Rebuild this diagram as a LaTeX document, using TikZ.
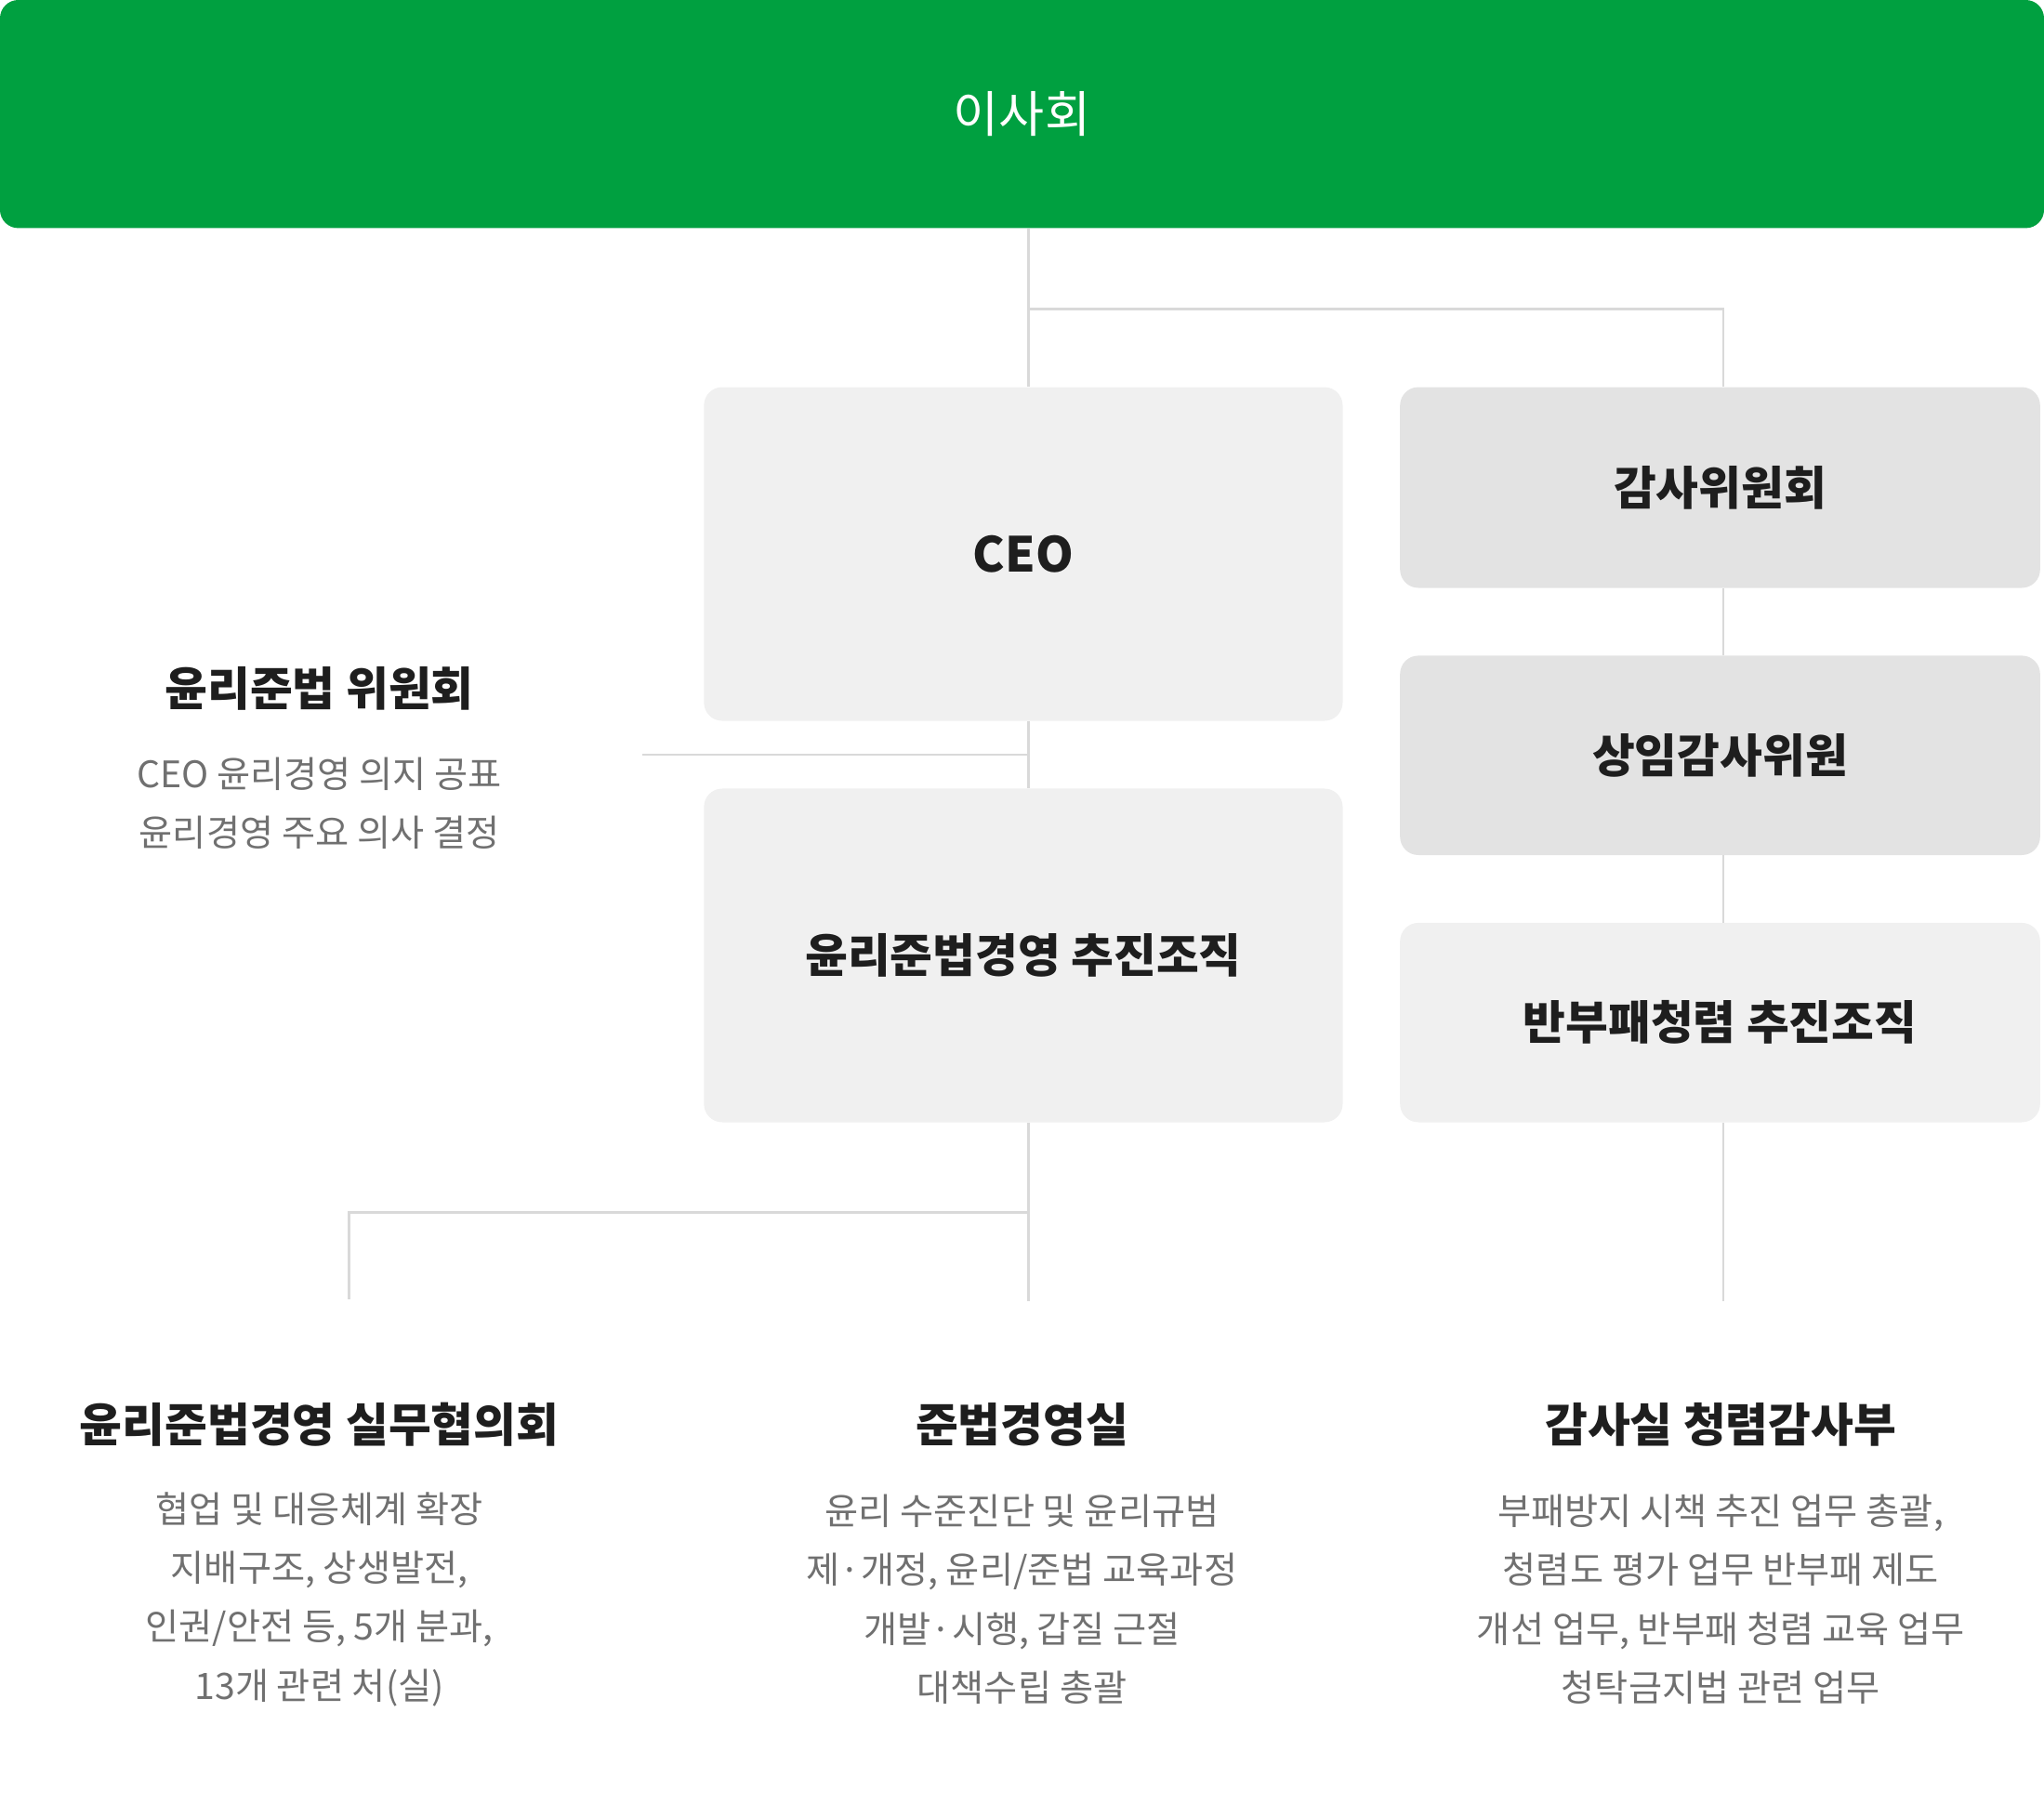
\documentclass[tikz,border=0pt]{standalone}
\usepackage{fontspec}
\setmainfont{Noto Sans CJK KR}
\usepackage{tikz}
\usetikzlibrary{calc}
\definecolor{boardgreen}{HTML}{00A040}
\definecolor{boxlight}{HTML}{F0F0F0}
\definecolor{boxdark}{HTML}{E3E3E3}
\definecolor{linegray}{HTML}{D9D9D9}
\definecolor{titleblack}{HTML}{1E1E1E}
\definecolor{descgray}{HTML}{707070}

\begin{document}
\begin{tikzpicture}[x=1pt,y=-1pt,
    orgbox/.style={rectangle,rounded corners=14pt,inner sep=0pt,text=titleblack,
        font=\fontsize{35.5}{40}\selectfont\bfseries},
    orgline/.style={draw=linegray,line width=2pt},
    unittitle/.style={inner sep=0pt,text=titleblack,font=\fontsize{35.5}{40}\selectfont\bfseries},
    unitdesc/.style={inner sep=0pt,align=center,text=descgray,font=\fontsize{28}{45}\selectfont}]
    \useasboundingbox (0,0) rectangle (1568,1384);
    \node[orgbox,fill=boardgreen,minimum width=1568pt,minimum height=175pt,text=white,
        font=\fontsize{38}{40}\selectfont] (board) at (784,87.5) {이사회};
    \node[orgbox,fill=boxlight,minimum width=490pt,minimum height=256pt,
        font=\fontsize{37}{40}\selectfont\bfseries] (ceo) at (785,425) {CEO};
    \node[orgbox,fill=boxlight,minimum width=490pt,minimum height=256pt] (promo) at (785,733) {윤리준법경영 추진조직};
    \node[orgbox,fill=boxdark,minimum width=491pt,minimum height=154pt] (audit) at (1319.5,374) {감사위원회};
    \node[orgbox,fill=boxdark,minimum width=491pt,minimum height=153pt] (fullaudit) at (1319.5,579.5) {상임감사위원};
    \node[orgbox,fill=boxlight,minimum width=491pt,minimum height=153pt] (anticorr) at (1319.5,784.5) {반부패청렴 추진조직};
    % committee on the left
    \node[unittitle] (cmtetitle) at (245,528) {윤리준법 위원회};
    \node[unitdesc] (cmtedesc) at (245,616) {CEO 윤리경영 의지 공표\\윤리경영 주요 의사 결정};
    % units at the bottom
    \node[unittitle] (counciltitle) at (245,1093) {윤리준법경영 실무협의회};
    \node[unitdesc] (councildesc) at (245,1227) {협업 및 대응체계 확장\\지배구조, 상생발전,\\인권/안전 등, 5개 분과,\\13개 관련 처(실)};
    \node[unittitle] (compltitle) at (784,1093) {준법경영실};
    \node[unitdesc] (compldesc) at (784,1227) {윤리 수준진단 및 윤리규범\\제·개정, 윤리/준법 교육과정\\개발·시행, 갑질 근절\\대책수립 총괄};
    \node[unittitle] (integtitle) at (1320,1093) {감사실 청렴감사부};
    \node[unitdesc] (integdesc) at (1320,1227) {부패방지 시책 추진 업무 총괄,\\청렴도 평가 업무 반부패 제도\\개선 업무, 반부패 청렴 교육 업무\\청탁금지법 관련 업무};
    % connectors
    \coordinate (spine) at (789,237);
    \coordinate (rspine) at (1322,237);
    \coordinate (cmte) at (493,579);
    \coordinate (lsplit) at (789,930);
    \coordinate (lcorner) at (268,930);
    \coordinate (lend) at (268,997);
    \coordinate (mend) at (789,998);
    \coordinate (rend) at (1322,998);
    \draw[orgline] (board.south -| spine) -- (ceo.north -| spine);
    \draw[orgline] (spine) -- (rspine) -- (audit.north -| rspine);
    \draw[orgline] (audit.south -| rspine) -- (fullaudit.north -| rspine);
    \draw[orgline] (fullaudit.south -| rspine) -- (anticorr.north -| rspine);
    \draw[orgline] (anticorr.south -| rspine) -- (rend);
    \draw[orgline] (ceo.south -| spine) -- (promo.north -| spine);
    \draw[orgline] (cmte) -- (cmte -| spine);
    \draw[orgline] (promo.south -| spine) -- (mend);
    \draw[orgline] (lsplit) -- (lcorner) -- (lend);
\end{tikzpicture}
\end{document}
